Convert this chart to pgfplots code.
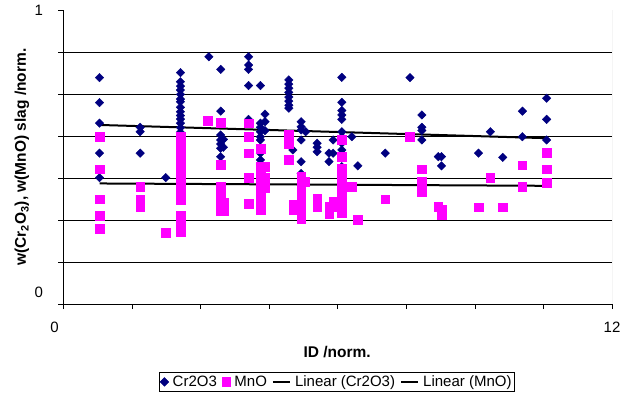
\documentclass[border=0pt]{standalone}
\usepackage{pgfplots}
\pgfplotsset{compat=1.18}
\usepackage{fontspec}
\setmainfont{Liberation Sans}
\definecolor{navyd}{RGB}{0,0,128}
\definecolor{magf}{RGB}{255,0,255}
\begin{document}
\begin{tikzpicture}
\begin{axis}[name=ax, scale only axis, width=548.6pt, height=294pt,
  xmin=0, xmax=12, ymin=0, ymax=1,
  axis x line*=bottom, axis y line*=left,
  axis line style={black, line width=0.8pt},
  xtick={0,1.5,...,12},
  xticklabels={\makebox[0pt][r]{0\hspace{4.6pt}},,,,,,,,12},
  ytick={0,0.142857,0.285714,0.428571,0.571429,0.714286,0.857143},
  yticklabels={{\raisebox{6.6pt}[0pt][0pt]{0}},,,,,,},
  extra y ticks={1}, extra y tick labels={1}, extra y tick style={grid=none},
  ymajorgrids, grid style={black, line width=0.7pt},
  tick align=outside, major tick length=5pt, tick style={black, line width=0.7pt},
  tick label style={font=\fontsize{15}{18}\selectfont},
  yticklabel style={xshift=-12pt},
  xticklabel style={yshift=-9pt},
  xlabel={ID /norm.},
  ylabel={w(Cr\textsubscript{2}O\textsubscript{3}), w(MnO) slag /norm.},
  every axis x label/.style={at={(axis description cs:0.499,-0.163)}, anchor=center, font=\bfseries\fontsize{15.5}{18}\selectfont},
  every axis y label/.style={at={(axis description cs:-0.0755,0.5)}, rotate=90, anchor=center, font=\bfseries\fontsize{15.5}{18}\selectfont},
  legend style={at={(axis description cs:0.4985,-0.265)}, anchor=center, legend columns=4, draw=black, line width=0.6pt,
    font=\fontsize{15}{18}\selectfont, inner sep=1pt,
    /tikz/every odd column/.append style={column sep=2pt},
    /tikz/every even column/.append style={column sep=3pt}},
  legend cell align=left,
]
\addplot[only marks, mark=square*, mark size=3pt, color=navyd, mark options={rotate=45, fill=navyd, draw=navyd}] coordinates {
(0.79,0.770) (0.79,0.685) (0.79,0.615) (0.79,0.513) (0.79,0.430)
(1.68,0.601) (1.68,0.586) (1.68,0.513)
(2.24,0.430)
(2.56,0.787) (2.56,0.756) (2.56,0.741) (2.56,0.728) (2.56,0.713) (2.56,0.697) (2.56,0.688) (2.56,0.669) (2.56,0.654) (2.56,0.641) (2.56,0.629) (2.56,0.615) (2.56,0.600) (2.56,0.584)
(3.18,0.841)
(3.44,0.798) (3.44,0.656) (3.44,0.575) (3.44,0.558) (3.44,0.544) (3.44,0.530) (3.44,0.501)
(3.50,0.560) (3.50,0.533)
(4.05,0.841) (4.05,0.813) (4.05,0.798) (4.05,0.743) (4.05,0.628)
(4.31,0.743) (4.31,0.615) (4.31,0.601) (4.31,0.586) (4.31,0.569) (4.31,0.558) (4.31,0.513) (4.31,0.490) (4.31,0.476)
(4.41,0.646) (4.41,0.620) (4.41,0.590)
(4.93,0.762) (4.93,0.748) (4.93,0.734) (4.93,0.720) (4.93,0.704) (4.93,0.690) (4.93,0.676) (4.93,0.666)
(5.02,0.524)
(5.20,0.620) (5.20,0.603) (5.20,0.592) (5.20,0.558) (5.20,0.484) (5.20,0.444)
(5.30,0.586)
(5.55,0.547) (5.55,0.533) (5.55,0.518)
(5.81,0.513) (5.81,0.484)
(5.90,0.558) (5.90,0.513)
(6.09,0.771) (6.09,0.686) (6.09,0.658) (6.09,0.643) (6.09,0.628) (6.09,0.586) (6.09,0.569) (6.09,0.547) (6.09,0.524) (6.09,0.467)
(6.31,0.569)
(6.44,0.470)
(7.04,0.513)
(7.58,0.770)
(7.84,0.643) (7.84,0.601) (7.84,0.590) (7.84,0.558)
(8.20,0.501)
(8.27,0.501) (8.27,0.470)
(9.08,0.513)
(9.34,0.586)
(9.61,0.499)
(10.04,0.656) (10.04,0.569)
(10.57,0.700) (10.57,0.628) (10.57,0.558)
};
\addlegendentry{Cr2O3}
\addplot[only marks, mark=square*, mark size=4.3pt, color=magf, mark options={fill=magf, draw=magf}] coordinates {
(0.79,0.569) (0.79,0.458) (0.79,0.356) (0.79,0.300) (0.79,0.256)
(1.68,0.399) (1.68,0.356) (1.68,0.331)
(2.24,0.243)
(2.56,0.569) (2.56,0.545) (2.56,0.520) (2.56,0.495) (2.56,0.470) (2.56,0.445) (2.56,0.420) (2.56,0.400) (2.56,0.375) (2.56,0.355) (2.56,0.300) (2.56,0.275) (2.56,0.245)
(3.15,0.624)
(3.44,0.617) (3.44,0.473) (3.44,0.399) (3.44,0.365) (3.44,0.340) (3.44,0.315)
(3.52,0.345) (3.52,0.315)
(4.05,0.615) (4.05,0.569) (4.05,0.513) (4.05,0.430) (4.05,0.342)
(4.31,0.529) (4.31,0.467) (4.31,0.440) (4.31,0.410) (4.31,0.380) (4.31,0.350) (4.31,0.320)
(4.41,0.467) (4.41,0.430) (4.41,0.395)
(4.93,0.575) (4.93,0.545) (4.93,0.490)
(5.03,0.340) (5.03,0.320)
(5.20,0.433) (5.20,0.405) (5.20,0.375) (5.20,0.345) (5.20,0.315) (5.20,0.290)
(5.28,0.416)
(5.55,0.360) (5.55,0.330)
(5.81,0.330) (5.81,0.305)
(5.90,0.350) (5.90,0.330)
(6.09,0.558) (6.09,0.501) (6.09,0.460) (6.09,0.430) (6.09,0.400) (6.09,0.370) (6.09,0.340) (6.09,0.310)
(6.31,0.399)
(6.44,0.286)
(7.04,0.356)
(7.58,0.569)
(7.84,0.458) (7.84,0.416) (7.84,0.382)
(8.20,0.331)
(8.27,0.320) (8.27,0.303)
(9.08,0.329)
(9.34,0.430)
(9.61,0.329)
(10.04,0.472) (10.04,0.399)
(10.57,0.515) (10.57,0.458) (10.57,0.413)
};
\addlegendentry{MnO}
\addplot[black, line width=2pt, no marks] coordinates {(0.79,0.609) (10.57,0.564)};
\addlegendentry{Linear (Cr2O3)}
\addplot[black, line width=2pt, no marks] coordinates {(0.79,0.410) (10.57,0.402)};
\addlegendentry{Linear (MnO)}
\draw[gray!60, line width=0.8pt] (rel axis cs:1,0) -- (rel axis cs:1,1);
\end{axis}
\pgfresetboundingbox
\path[use as bounding box] ([xshift=-63.4pt,yshift=-90pt]ax.south west) rectangle ([xshift=9pt,yshift=10pt]ax.north east);
\end{tikzpicture}
\end{document}
